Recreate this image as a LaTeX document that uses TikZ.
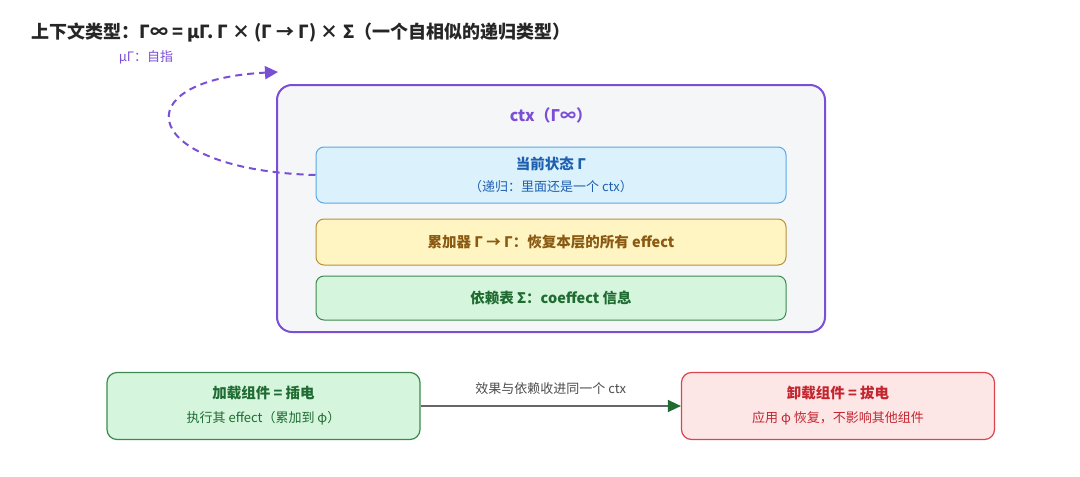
\documentclass[tikz,border=0pt]{standalone}
\usepackage{fontspec}
\setmainfont{Noto Sans CJK SC}
\usetikzlibrary{arrows.meta,positioning}
\definecolor{ctxpurple}{HTML}{7A4FD6}
\definecolor{ctxfill}{HTML}{F5F6F8}
\definecolor{stblue}{HTML}{5AA9E6}
\definecolor{stfill}{HTML}{DBF2FC}
\definecolor{sttext}{HTML}{1F5FB0}
\definecolor{acborder}{HTML}{B8913A}
\definecolor{acfill}{HTML}{FFF5C2}
\definecolor{actext}{HTML}{8A5A12}
\definecolor{dpborder}{HTML}{3D8A4F}
\definecolor{dpfill}{HTML}{D5F5DC}
\definecolor{dptext}{HTML}{1F6B32}
\definecolor{unborder}{HTML}{D9454F}
\definecolor{unfill}{HTML}{FDE6E6}
\definecolor{untext}{HTML}{C42630}
\tikzset{
  layer/.style={draw, rounded corners=8pt, line width=1pt, minimum width=470pt, align=center},
  comp/.style={draw, rounded corners=10pt, line width=1.2pt, minimum width=313pt, minimum height=67pt, align=center},
  big/.style={font=\fontsize{14.5}{17}\selectfont\bfseries},
  small/.style={font=\fontsize{13}{15}\selectfont}
}
\begin{document}
\begin{tikzpicture}[x=1pt,y=-1pt]
\useasboundingbox (0,0) rectangle (1080,477);
\node[anchor=west, font=\fontsize{18}{20}\selectfont\bfseries, text=black!85] (title) at (28,33) {上下文类型：Γ∞ = μΓ. Γ × (Γ → Γ) × Σ（一个自相似的递归类型）};
\node[font=\fontsize{13}{14}\selectfont, text=ctxpurple] (mulabel) at (146,57) {μΓ：自指};
\draw[ctxpurple, line width=2pt, rounded corners=15pt, fill=ctxfill] (277,85) rectangle (825,332);
\node[font=\fontsize{16}{18}\selectfont\bfseries, text=ctxpurple] (ctx) at (551,115) {ctx（Γ∞）};
\node[layer, draw=stblue, fill=stfill, minimum height=56pt, font=\fontsize{12}{22}\selectfont] (state) at (551,175)
  {\textcolor{sttext}{\fontsize{14.5}{17}\selectfont\bfseries 当前状态 Γ}\\
   \textcolor{sttext}{\fontsize{13}{15}\selectfont（递归：里面还是一个 ctx）}};
\node[layer, draw=acborder, fill=acfill, minimum height=46pt, big, text=actext] (acc) at (551,242) {累加器 Γ → Γ：恢复本层的所有 effect};
\node[layer, draw=dpborder, fill=dpfill, minimum height=44pt, big, text=dptext] (dep) at (551,298) {依赖表 Σ：coeffect 信息};
\coordinate (loopend) at (278,72);
\draw[ctxpurple, line width=2pt, dash pattern=on 7pt off 5pt, -{Triangle[length=13pt,width=13pt]}]
  (state.west) .. controls (140,170) and (120,80) .. (loopend);
% components
\node[comp, draw=dpborder, fill=dpfill, font=\fontsize{12}{24}\selectfont] (load) at (263.5,406)
  {\textcolor{dptext}{\fontsize{14.5}{17}\selectfont\bfseries 加载组件 = 插电}\\
   \textcolor{dptext}{\fontsize{13}{15}\selectfont 执行其 effect（累加到 φ）}};
\node[comp, draw=unborder, fill=unfill, font=\fontsize{12}{24}\selectfont] (unload) at (838,406)
  {\textcolor{untext}{\fontsize{14.5}{17}\selectfont\bfseries 卸载组件 = 拔电}\\
   \textcolor{untext}{\fontsize{13}{15}\selectfont 应用 φ 恢复，不影响其他组件}};
\draw[line width=1.5pt, draw=black!60, -{Triangle[length=13pt,width=12pt,fill=dptext,color=dptext]}] (load) -- node[above=7pt, small, text=black!70] {效果与依赖收进同一个 ctx} (unload);
\end{tikzpicture}
\end{document}
